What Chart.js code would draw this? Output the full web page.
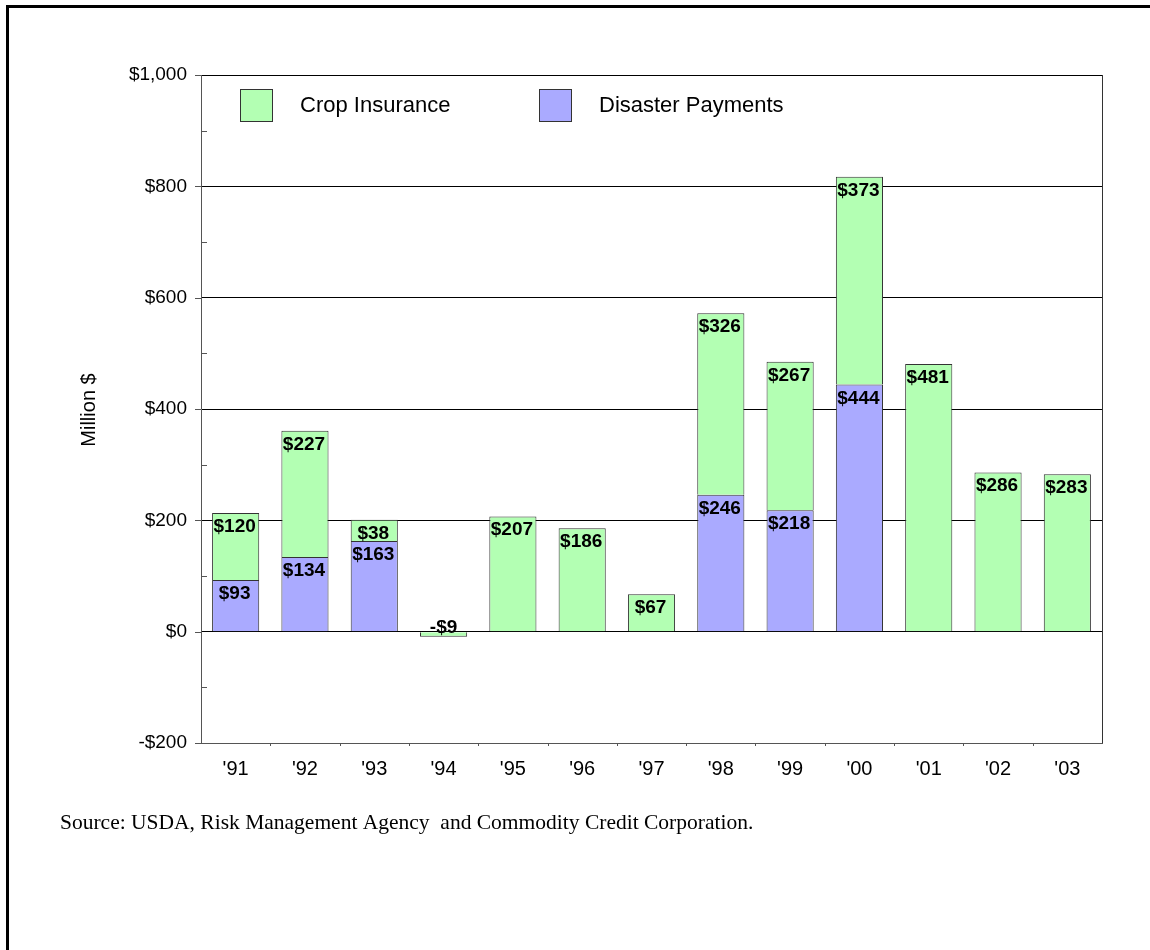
<!DOCTYPE html>
<html>
<head>
<meta charset="utf-8">
<script src="https://cdn.jsdelivr.net/npm/chart.js@4.4.1/dist/chart.umd.min.js"></script>
<style>
  html, body { margin: 0; padding: 0; background: #fff; }
  canvas { display: block; }
</style>
</head>
<body>
<canvas id="chart" width="1150" height="950"></canvas>
<script>
// chart data
const years = ["'91", "'92", "'93", "'94", "'95", "'96", "'97", "'98", "'99", "'00", "'01", "'02", "'03"];
const disasterPayments = [93, 134, 163, null, null, null, null, 246, 218, 444, null, null, null];
const cropInsurance = [120, 227, 38, -9, 207, 186, 67, 326, 267, 373, 481, 286, 283];
const yTicks = [-200, 0, 200, 400, 600, 800, 1000];

const COLOR_CROP = "#B3FFB3";
const COLOR_DISASTER = "#AAAAFF";
const FONT_SANS = "'Liberation Sans', Arial, sans-serif";
const FONT_SERIF = "'Liberation Serif', 'Times New Roman', serif";

/**
 * format money value as in the original: $1,000 / -$200
 */
function formatMoney(v) {
  const s = "$" + Math.abs(v).toLocaleString("en-US");
  return v < 0 ? "-" + s : s;
}

/**
 * frame, plot box, tick marks, legend and texts
 */
const decorPlugin = {
  id: "decor",
  afterDraw(chart) {
    const ctx = chart.ctx;
    const area = chart.chartArea;
    const yScale = chart.scales.y;
    const xScale = chart.scales.x;

    ctx.save();

    // outer frame (only top and left are visible)
    ctx.fillStyle = "#000";
    ctx.fillRect(6, 5, 1150 - 6, 3);
    ctx.fillRect(6, 5, 3, 950 - 5);

    // plot box right side
    ctx.strokeStyle = "#333";
    ctx.lineWidth = 1;
    ctx.beginPath();
    ctx.moveTo(Math.round(area.right) + 0.5, area.top);
    ctx.lineTo(Math.round(area.right) + 0.5, area.bottom);
    ctx.stroke();

    // y tick marks: major outside, minor inside
    ctx.strokeStyle = "#555";
    ctx.beginPath();
    for (let v = -200; v <= 1000; v += 100) {
      const y = Math.round(yScale.getPixelForValue(v)) + 0.5;
      if (v % 200 === 0) {
        ctx.moveTo(area.left - 6, y);
        ctx.lineTo(area.left, y);
      } else {
        ctx.moveTo(area.left, y);
        ctx.lineTo(area.left + 6, y);
      }
    }
    // x tick marks between categories
    for (let i = 1; i < years.length; i++) {
      const x = Math.round((xScale.getPixelForTick(i - 1) + xScale.getPixelForTick(i)) / 2) + 0.5;
      ctx.moveTo(x, area.bottom);
      ctx.lineTo(x, area.bottom + 3);
    }
    ctx.stroke();

    // legend inside the plot
    const legendItems = [
      { label: "Crop Insurance", color: COLOR_CROP, x: 240 },
      { label: "Disaster Payments", color: COLOR_DISASTER, x: 539 }
    ];
    ctx.font = "22px " + FONT_SANS;
    ctx.textBaseline = "middle";
    ctx.textAlign = "left";
    legendItems.forEach(function (item) {
      ctx.fillStyle = item.color;
      ctx.fillRect(item.x, 89, 32, 32);
      ctx.strokeStyle = "#333";
      ctx.strokeRect(item.x + 0.5, 89.5, 32, 32);
      ctx.fillStyle = "#000";
      ctx.fillText(item.label, item.x + 60, 106);
    });

    // y axis title
    ctx.save();
    ctx.translate(89, 410);
    ctx.rotate(-Math.PI / 2);
    ctx.textAlign = "center";
    ctx.textBaseline = "middle";
    ctx.font = "20px " + FONT_SANS;
    ctx.fillText("Million $", 0, 0);
    ctx.restore();

    // source note
    ctx.font = "21.5px " + FONT_SERIF;
    ctx.textAlign = "left";
    ctx.textBaseline = "middle";
    ctx.fillText("Source: USDA, Risk Management Agency  and Commodity Credit Corporation.", 60, 823);

    ctx.restore();
  }
};

/**
 * value labels at the top inside each segment
 */
const valueLabelPlugin = {
  id: "valueLabels",
  afterDatasetsDraw(chart) {
    const ctx = chart.ctx;
    ctx.save();
    ctx.font = "bold 19px " + FONT_SANS;
    ctx.fillStyle = "#000";
    ctx.textAlign = "center";
    ctx.textBaseline = "alphabetic";
    chart.data.datasets.forEach(function (ds, di) {
      const meta = chart.getDatasetMeta(di);
      meta.data.forEach(function (bar, i) {
        const v = ds.data[i];
        if (v === null || v === undefined) return;
        const top = Math.min(bar.y, bar.base);
        if (v < 0) {
          ctx.fillText(formatMoney(v), bar.x, bar.base + 1);
        } else {
          ctx.fillText(formatMoney(v), bar.x - 1, top + 19);
        }
      });
    });
    ctx.restore();
  }
};

function runChart() {
  const ctx = document.getElementById("chart");

  const data = {
    labels: years,
    datasets: [
      {
        label: "Disaster Payments",
        data: disasterPayments,
        backgroundColor: COLOR_DISASTER,
        borderColor: "#333",
        borderWidth: 1
      },
      {
        label: "Crop Insurance",
        data: cropInsurance,
        backgroundColor: COLOR_CROP,
        borderColor: "#333",
        borderWidth: 1
      }
    ]
  };

  const options = {
    responsive: false,
    devicePixelRatio: 1,
    animation: false,
    layout: {
      padding: { left: 81, right: 48, top: 75, bottom: 147 }
    },
    plugins: {
      legend: { display: false },
      tooltip: { enabled: false },
      title: { display: false }
    },
    datasets: {
      bar: {
        barPercentage: 0.68,
        categoryPercentage: 1.0
      }
    },
    scales: {
      x: {
        stacked: true,
        afterFit: function (scale) { scale.height = 60; },
        grid: { display: false, drawTicks: false },
        border: { display: true, color: "#555", width: 1 },
        ticks: {
          color: "#000",
          padding: 14,
          font: { family: FONT_SANS, size: 20 }
        }
      },
      y: {
        stacked: true,
        min: -200,
        max: 1000,
        afterFit: function (scale) { scale.width = 120; },
        afterBuildTicks: function (scale) {
          scale.ticks = yTicks.map(function (v) { return { value: v }; });
        },
        grid: {
          drawTicks: false,
          color: function (c) {
            return c.tick && c.tick.value !== -200 ? "#000" : "transparent";
          },
          lineWidth: 1
        },
        border: { display: true, color: "#555", width: 1 },
        ticks: {
          color: "#000",
          padding: 14,
          font: { family: FONT_SANS, size: 19 },
          callback: function (v) { return formatMoney(v); }
        }
      }
    }
  };

  new Chart(ctx, {
    type: "bar",
    data: data,
    options: options,
    plugins: [valueLabelPlugin, decorPlugin]
  });
}

runChart();
</script>
</body>
</html>
